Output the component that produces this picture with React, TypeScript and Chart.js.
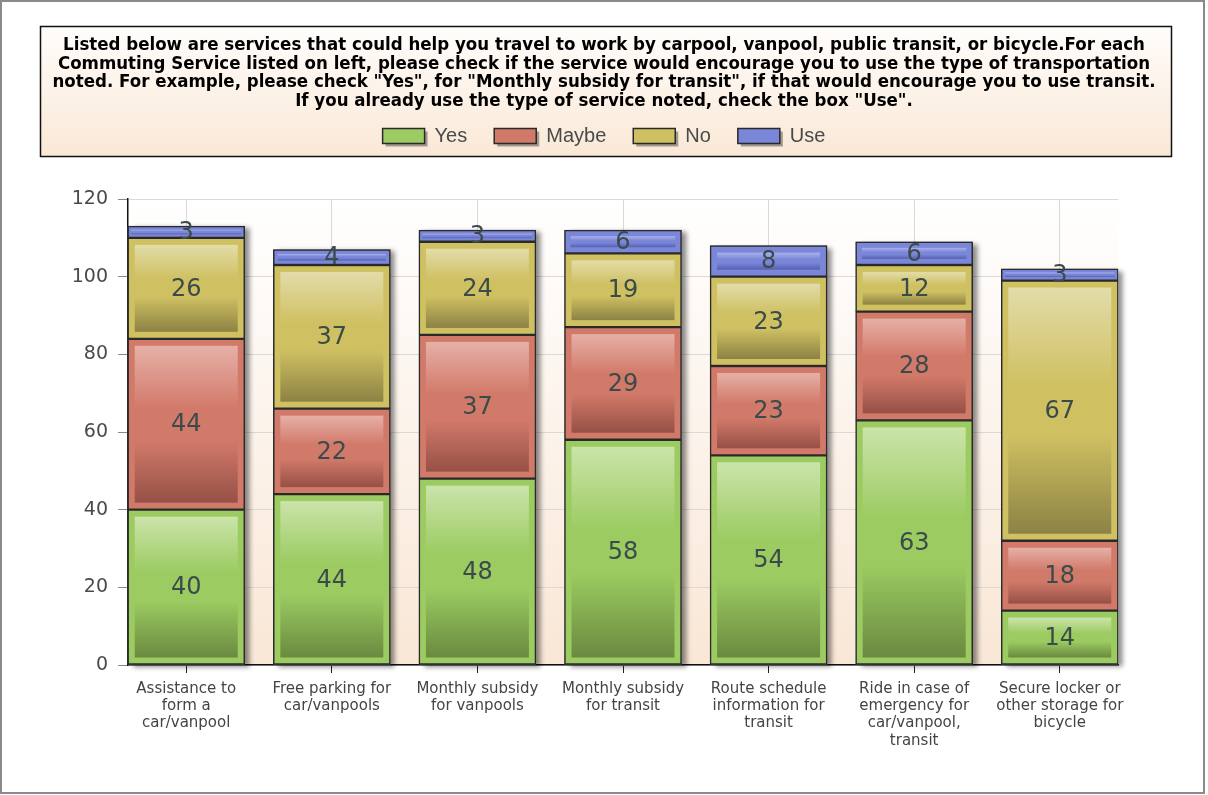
import React, { useEffect, useRef } from 'react';
import { Chart, registerables } from 'chart.js';

Chart.register(...registerables);

const categories: string[][] = [
  ['Assistance to', 'form a', 'car/vanpool'],
  ['Free parking for', 'car/vanpools'],
  ['Monthly subsidy', 'for vanpools'],
  ['Monthly subsidy', 'for transit'],
  ['Route schedule', 'information for', 'transit'],
  ['Ride in case of', 'emergency for', 'car/vanpool,', 'transit'],
  ['Secure locker or', 'other storage for', 'bicycle'],
];
const yesValues = [40, 44, 48, 58, 54, 63, 14];
const maybeValues = [44, 22, 37, 29, 23, 28, 18];
const noValues = [26, 37, 24, 19, 23, 12, 67];
const useValues = [3, 4, 3, 6, 8, 6, 3];
const seriesNames = ['Yes', 'Maybe', 'No', 'Use'];
const yTicks = [0, 20, 40, 60, 80, 100, 120];
const titleLines = [
  'Listed below are services that could help you travel to work by carpool, vanpool, public transit, or bicycle.For each',
  'Commuting Service listed on left, please check if the service would encourage you to use the type of transportation',
  'noted. For example, please check "Yes", for "Monthly subsidy for transit", if that would encourage you to use transit.',
  'If you already use the type of service noted, check the box "Use".',
];

const baseColors = ['#9BCB61', '#D27A6A', '#CFC062', '#7A86D8'];
const lightColors = ['#CBE4AA', '#E6B0A7', '#E2DCA8', '#A9B1EA'];
const darkColors = ['#6A8A40', '#965046', '#8C8244', '#5560B0'];

const W = 1208;
const H = 795;
const CHART_TOP = 199;

const decorPlugin = {
  id: 'decor',
  beforeInit(chart: any) {
    const lg = chart.legend;
    if (lg && !lg.__patched) {
      const orig = lg.fit;
      lg.fit = function () {
        orig.call(this);
        const titleH = chart.titleBlock ? chart.titleBlock.height : 0;
        this.height = CHART_TOP - titleH;
      };
      lg.__patched = true;
    }
  },
  beforeDraw(chart: any) {
    const ctx = chart.ctx;
    const ca = chart.chartArea;
    ctx.save();
    ctx.fillStyle = '#ffffff';
    ctx.fillRect(0, 0, W, H);
    ctx.strokeStyle = '#8a8a8a';
    ctx.lineWidth = 2;
    ctx.strokeRect(1, 1, W - 5, H - 3);
    const g = ctx.createLinearGradient(0, 26, 0, 157);
    g.addColorStop(0, '#FFFDFB');
    g.addColorStop(1, '#FAE8D6');
    ctx.fillStyle = g;
    ctx.fillRect(40, 26, 1132, 131);
    ctx.strokeStyle = '#111111';
    ctx.lineWidth = 1.5;
    ctx.strokeRect(40.5, 26.5, 1131, 130);
    const pg = ctx.createLinearGradient(0, ca.top, 0, ca.bottom);
    pg.addColorStop(0, '#FFFFFF');
    pg.addColorStop(1, '#F9E7D6');
    ctx.fillStyle = pg;
    ctx.fillRect(ca.left, ca.top, ca.right - ca.left, ca.bottom - ca.top);
    const lg = chart.legend;
    if (lg && lg.legendHitBoxes) {
      ctx.fillStyle = 'rgba(0,0,0,0.35)';
      lg.legendHitBoxes.forEach((hb: any) => {
        const bw = lg.options.labels.boxWidth;
        const bh = lg.options.labels.boxHeight;
        const cy = hb.top + hb.height / 2;
        ctx.fillRect(hb.left + 3, cy - bh / 2 + 3, bw, bh);
      });
    }
    ctx.restore();
  },
  beforeDatasetsDraw(chart: any) {
    const ctx = chart.ctx;
    const n = categories.length;
    ctx.save();
    ctx.shadowColor = 'rgba(0,0,0,0.45)';
    ctx.shadowBlur = 5;
    ctx.shadowOffsetX = 5;
    ctx.shadowOffsetY = 2;
    ctx.fillStyle = '#777';
    for (let i = 0; i < n; i++) {
      let top = Infinity;
      let base = 0;
      let x = 0;
      let w = 0;
      chart.data.datasets.forEach((_d: any, di: number) => {
        const el = chart.getDatasetMeta(di).data[i];
        if (!el) return;
        const p = el.getProps(['x', 'y', 'base', 'width'], true);
        top = Math.min(top, p.y, p.base);
        base = Math.max(base, p.base, p.y);
        x = p.x;
        w = p.width;
      });
      ctx.fillRect(x - w / 2, top, w, base - top);
    }
    ctx.restore();
  },
  afterDatasetsDraw(chart: any) {
    const ctx = chart.ctx;
    ctx.save();
    chart.data.datasets.forEach((ds: any, di: number) => {
      const meta = chart.getDatasetMeta(di);
      meta.data.forEach((el: any) => {
        const p = el.getProps(['x', 'y', 'base', 'width'], true);
        const top = Math.min(p.y, p.base);
        const bot = Math.max(p.y, p.base);
        const h = bot - top;
        const inset = Math.min(6, h * 0.22);
        const l = p.x - p.width / 2 + inset + 1;
        const r = p.x + p.width / 2 - inset - 1;
        const t = top + inset + 1;
        const b = bot - inset - 1;
        if (b - t < 1) return;
        const g = ctx.createLinearGradient(0, t, 0, b);
        g.addColorStop(0, lightColors[di]);
        g.addColorStop(0.4, baseColors[di]);
        g.addColorStop(0.6, baseColors[di]);
        g.addColorStop(1, darkColors[di]);
        ctx.fillStyle = g;
        ctx.fillRect(l, t, r - l, b - t);
      });
    });
    ctx.fillStyle = '#3B4A4A';
    ctx.font = '24px "DejaVu Sans", Arial, sans-serif';
    ctx.textAlign = 'center';
    ctx.textBaseline = 'middle';
    chart.data.datasets.forEach((ds: any, di: number) => {
      const meta = chart.getDatasetMeta(di);
      meta.data.forEach((el: any, i: number) => {
        const p = el.getProps(['x', 'y', 'base'], true);
        const v = ds.data[i].y;
        ctx.fillText(String(v), p.x, (p.y + p.base) / 2 + 1);
      });
    });
    ctx.restore();
  },
};

export default function App() {
  const ref = useRef<HTMLCanvasElement | null>(null);
  useEffect(() => {
    if (!ref.current) return;
    const seriesValues = [yesValues, maybeValues, noValues, useValues];
    const chart = new Chart(ref.current, {
      type: 'bar',
      data: {
        datasets: seriesNames.map((name, di) => ({
          label: name,
          data: seriesValues[di].map((v, i) => ({ x: i, y: v })),
          backgroundColor: baseColors[di],
          borderColor: '#2a2a2a',
          borderWidth: 1.5,
          borderSkipped: false,
          barThickness: 117,
        })),
      },
      options: {
        responsive: false,
        animation: false,
        events: [],
        layout: { padding: { left: 0, right: 0, top: 0, bottom: 0 } },
        plugins: {
          tooltip: { enabled: false },
          title: {
            display: true,
            text: titleLines,
            color: '#000000',
            font: { family: '"DejaVu Sans Condensed", "Liberation Sans", Arial, sans-serif', size: 18.5, weight: 'bold', lineHeight: '18.5px' as any },
            padding: { top: 36, bottom: -11 },
          },
          legend: {
            display: true,
            position: 'top',
            labels: {
              boxWidth: 42,
              boxHeight: 15,
              padding: 27,
              color: '#4a4a4a',
              font: { family: '"Liberation Sans", Arial, sans-serif', size: 20 },
            },
          },
        },
        scales: {
          x: {
            type: 'linear',
            stacked: true,
            min: -0.4,
            max: 6.4,
            offset: false,
            afterBuildTicks: (s: any) => {
              s.ticks = categories.map((_c, i) => ({ value: i }));
            },
            afterFit: (s: any) => {
              s.height = H - 665;
            },
            grid: {
              offset: false,
              color: '#d9d9d9',
              lineWidth: 1,
              tickLength: 8,
              tickColor: '#222',
            },
            border: { color: '#111', width: 1.5 },
            ticks: {
              autoSkip: false,
              maxRotation: 0,
              padding: 7,
              color: '#444',
              font: { family: '"DejaVu Sans", Arial, sans-serif', size: 15, lineHeight: '17.4px' as any },
              callback: (v: any) => categories[v as number] ?? '',
            },
          },
          y: {
            type: 'linear',
            stacked: true,
            min: 0,
            max: 120,
            afterBuildTicks: (s: any) => {
              s.ticks = yTicks.map((v) => ({ value: v }));
            },
            afterFit: (s: any) => {
              s.width = 128;
            },
            grid: {
              color: '#d9d9d9',
              lineWidth: 1,
              tickLength: 10,
              tickColor: '#888',
            },
            border: { color: '#111', width: 1.5 },
            ticks: {
              padding: 10,
              color: '#4a4a4a',
              font: { family: '"DejaVu Sans", Arial, sans-serif', size: 19 },
            },
          },
          yRight: {
            type: 'linear',
            position: 'right',
            display: true,
            min: 0,
            max: 120,
            afterFit: (s: any) => {
              s.width = W - 1118;
            },
            grid: { display: false, drawTicks: false },
            border: { display: false },
            ticks: { display: false },
          },
        },
      },
      plugins: [decorPlugin],
    } as any);
    return () => chart.destroy();
  }, []);
  return (
    <div style={{ position: 'absolute', left: 0, top: 0, width: W, height: H }}>
      <canvas ref={ref} width={W} height={H} style={{ display: 'block' }} />
    </div>
  );
}
